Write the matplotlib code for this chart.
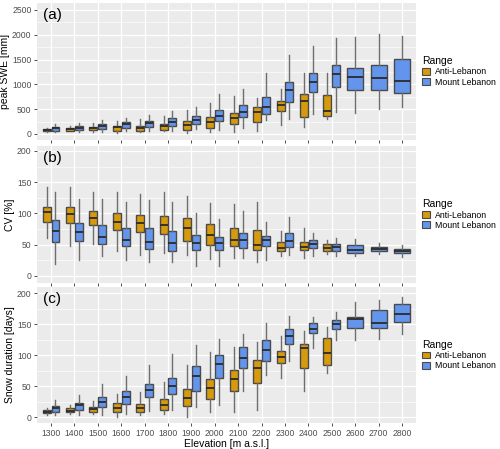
import matplotlib.pyplot as plt
from matplotlib.patches import Patch

plt.rcParams['font.family'] = ['Liberation Sans', 'DejaVu Sans']

elevations = [1300, 1400, 1500, 1600, 1700, 1800, 1900, 2000,
              2100, 2200, 2300, 2400, 2500, 2600, 2700, 2800]
ranges = ['Anti-Lebanon', 'Mount Lebanon']

# five-number summaries: (whisker low, q1, median, q3, whisker high)
# Anti-Lebanon only reaches 2500 m
swe_anti = [(50, 62, 80, 100, 120), (53, 67, 93, 113, 160), (40, 80, 120, 147, 213),
            (13, 60, 140, 167, 267), (47, 67, 127, 167, 300), (60, 80, 167, 193, 353),
            (13, 87, 180, 267, 480), (34, 128, 242, 336, 617), (34, 195, 315, 430, 758),
            (60, 235, 436, 550, 731), (188, 470, 577, 658, 899), (134, 349, 664, 799, 1235),
            (302, 356, 456, 779, 1228)]
swe_mount = [(40, 67, 113, 140, 200), (40, 80, 127, 153, 227), (33, 93, 153, 200, 273),
             (67, 120, 193, 233, 327), (60, 140, 213, 267, 380), (67, 167, 247, 313, 460),
             (100, 200, 280, 367, 547), (80, 268, 369, 483, 799), (128, 336, 436, 577, 899),
             (282, 409, 544, 752, 1235), (309, 638, 879, 1047, 1584), (403, 846, 1054, 1235, 1779),
             (443, 946, 1215, 1383, 1940), (430, 886, 1154, 1322, 1960), (510, 886, 1128, 1383, 2013),
             (550, 819, 1067, 1503, 1973)]

cv_anti = [(61, 87, 102, 111, 143), (48, 84, 99, 110, 143), (51, 82, 92, 104, 135),
           (40, 74, 86, 100, 135), (34, 71, 84, 97, 131), (36, 67, 81, 96, 134),
           (34, 56, 77, 92, 128), (27, 50, 65, 83, 117), (29, 47, 57, 77, 115),
           (22, 42, 49, 73, 119), (31, 39, 45, 54, 72), (28, 41, 46, 54, 76),
           (35, 40, 44, 51, 57)]
cv_mount = [(19, 54, 72, 90, 134), (25, 55, 71, 84, 123), (31, 51, 62, 81, 123),
            (25, 48, 58, 76, 118), (22, 43, 54, 76, 121), (22, 39, 52, 72, 118),
            (15, 41, 52, 66, 101), (16, 41, 52, 62, 91), (29, 44, 57, 69, 104),
            (25, 48, 58, 64, 86), (34, 46, 55, 69, 94), (31, 44, 51, 57, 69),
            (32, 39, 46, 51, 61), (31, 36, 42, 49, 59), (35, 40, 43, 46, 53),
            (30, 36, 39, 43, 50)]

dur_anti = [(4, 7, 9, 11, 15), (5, 8, 10, 14, 19), (5, 9, 13, 17, 26),
            (0, 8, 15, 23, 38), (4, 8, 14, 22, 40), (5, 11, 20, 30, 57),
            (0, 18, 31, 45, 85), (9, 30, 47, 62, 106), (8, 43, 62, 76, 113),
            (12, 56, 80, 92, 122), (63, 88, 98, 107, 132), (42, 79, 112, 118, 139),
            (72, 85, 103, 128, 145)]
dur_mount = [(4, 9, 14, 18, 28), (4, 12, 19, 23, 36), (4, 16, 25, 32, 54),
             (5, 22, 33, 42, 67), (10, 32, 44, 54, 84), (11, 38, 50, 64, 102),
             (16, 43, 66, 82, 116), (19, 63, 86, 101, 127), (42, 79, 96, 114, 135),
             (68, 91, 109, 124, 152), (91, 119, 131, 143, 163), (112, 136, 143, 152, 162),
             (124, 143, 151, 157, 170), (125, 144, 158, 162, 186), (126, 144, 153, 174, 189),
             (134, 154, 167, 183, 195)]

colors = {'Anti-Lebanon': '#D69A0C', 'Mount Lebanon': '#6495ED'}

panels = [
    ('(a)', 'peak SWE [mm]', swe_anti, swe_mount, (-121, 2641), [0, 500, 1000, 1500, 2000, 2500], 250),
    ('(b)', 'CV [%]', cv_anti, cv_mount, (-11.5, 208), [0, 50, 100, 150, 200], 25),
    ('(c)', 'Snow duration [days]', dur_anti, dur_mount, (-9.5, 210.5), [0, 50, 100, 150, 200], 25),
]

# panel rectangles in pixels (left, top, right, bottom)
W, H = 500, 449
rects = [(37, 3, 416, 140), (37, 146, 416, 283), (37, 287, 416, 423)]

fig = plt.figure(figsize=(W / 100, H / 100), dpi=100)


def to_stats(summ):
    out = []
    for lo, q1, med, q3, hi in summ:
        out.append({'whislo': lo, 'q1': q1, 'med': med, 'q3': q3, 'whishi': hi})
    return out


for k, (letter, ylabel, anti, mount, ylim, yticks, minor_step) in enumerate(panels):
    x0, y0, x1, y1 = rects[k]
    ax = fig.add_axes([x0 / W, 1 - y1 / H, (x1 - x0) / W, (y1 - y0) / H])
    ax.set_facecolor('#EBEBEB')
    for s in ax.spines.values():
        s.set_visible(False)

    n_anti = len(anti)
    dodge = 0.19
    pos_anti = [i - dodge for i in range(n_anti)]
    pos_mount = [i + dodge if i < n_anti else i for i in range(len(mount))]
    w_mount = [0.34 if i < n_anti else 0.68 for i in range(len(mount))]

    for summ, pos, wid, name in [(anti, pos_anti, [0.34] * n_anti, 'Anti-Lebanon'),
                                 (mount, pos_mount, w_mount, 'Mount Lebanon')]:
        ax.bxp(to_stats(summ), positions=pos, widths=wid, patch_artist=True,
               showfliers=False, showcaps=False, manage_ticks=False,
               boxprops=dict(facecolor=colors[name], edgecolor='#4A4A4A', linewidth=1.0),
               medianprops=dict(color='#2B2B2B', linewidth=1.3),
               whiskerprops=dict(color='#6E6E6E', linewidth=1.0),
               zorder=3)

    ax.set_xlim(-0.6, len(elevations) - 0.4)
    ax.set_ylim(*ylim)
    ax.set_yticks(yticks)
    ax.set_yticks([v + minor_step for v in yticks[:-1]], minor=True)
    ax.set_xticks(range(len(elevations)))
    ax.grid(True, which='major', color='white', linewidth=0.9, zorder=0)
    ax.grid(True, which='minor', axis='y', color='white', linewidth=0.45, zorder=0)
    ax.set_axisbelow(True)
    ax.tick_params(axis='both', which='major', length=2.5, width=0.6, color='#333333',
                   labelsize=6.2, labelcolor='#4D4D4D', pad=1.5)
    ax.tick_params(axis='y', which='minor', length=0)
    ax.set_ylabel(ylabel, fontsize=7.5, labelpad=1.5)
    if k == 2:
        ax.set_xticklabels([str(e) for e in elevations])
        ax.set_xlabel('Elevation [m a.s.l.]', fontsize=7.5, labelpad=1)
    else:
        ax.set_xticklabels([])

    ax.text(0.015, 0.965, letter, transform=ax.transAxes, fontsize=11, va='top', ha='left')

    handles = [Patch(facecolor=colors[r], edgecolor='#4A4A4A', linewidth=0.8) for r in ranges]
    leg = ax.legend(handles, ranges, title='Range', loc='center left',
                    bbox_to_anchor=(1.0, 0.5), frameon=False, fontsize=6.3,
                    title_fontsize=7.5, handlelength=0.9, handleheight=0.8,
                    handletextpad=0.6, labelspacing=0.15, borderaxespad=0.3)
    leg._legend_box.align = 'left'

fig.savefig('out.png', dpi=100)
